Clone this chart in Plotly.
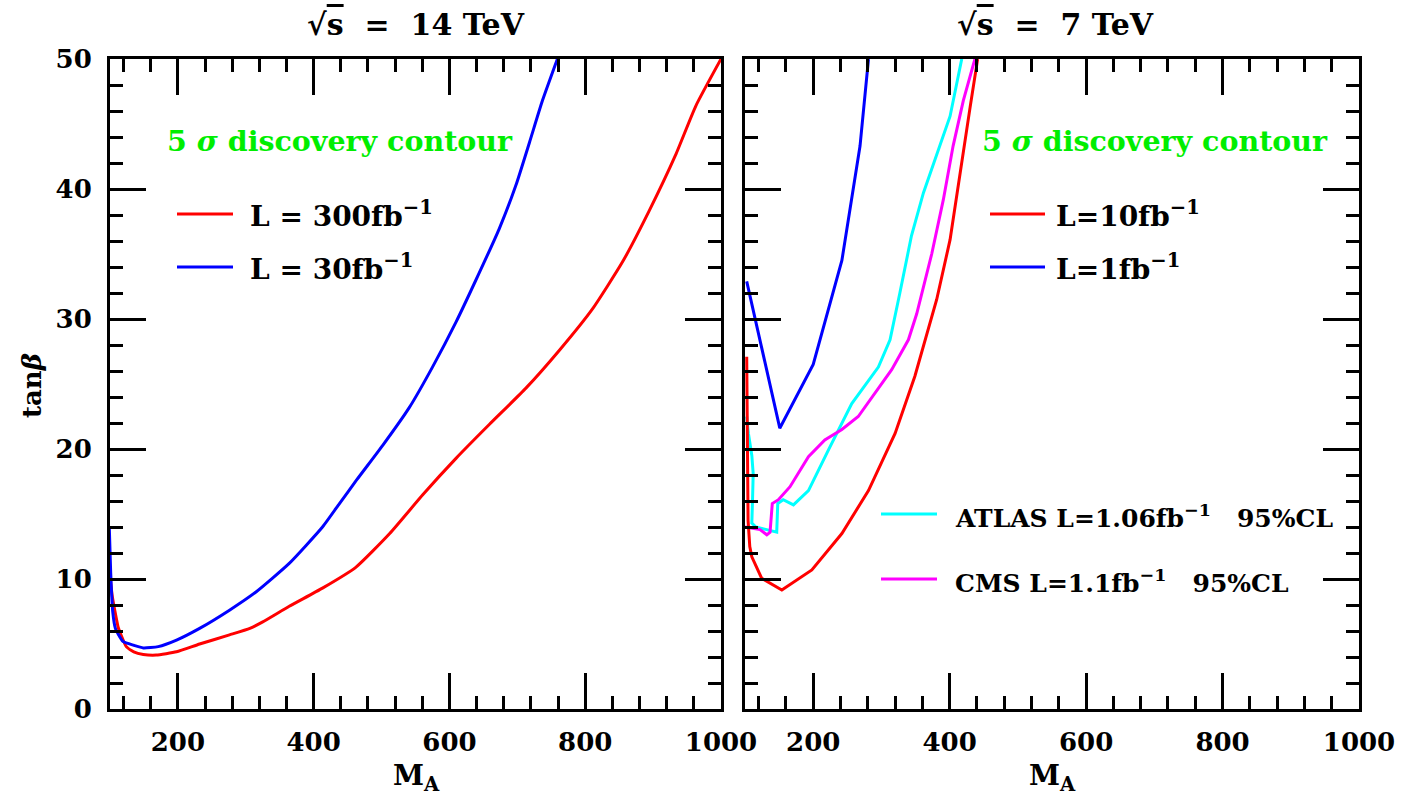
import plotly.graph_objects as go

# ---- sqrt(s) = 14 TeV : 5 sigma discovery contours ----
ma_14_300 = [99, 103, 107, 112, 117, 124, 135, 149, 168, 198, 232, 276, 306, 325,
             364, 413, 462, 512, 561, 610, 659, 713, 762, 811, 855, 894, 933, 963, 1000]
tb_14_300 = [10.8, 8.8, 7.6, 6.3, 5.6, 4.8, 4.4, 4.2, 4.15, 4.4, 5.0, 5.7, 6.2, 6.7,
             7.9, 9.3, 10.9, 13.5, 16.5, 19.3, 21.9, 24.7, 27.6, 30.8, 34.4, 38.3, 42.6, 46.4, 50.0]

ma_14_30 = [99, 101, 104, 108, 119, 135, 149, 171, 198, 232, 276, 315, 364, 413,
            438, 463, 502, 541, 575, 610, 639, 673, 698, 718, 737, 759]
tb_14_30 = [13.9, 10.5, 7.5, 6.2, 5.2, 4.9, 4.7, 4.8, 5.3, 6.2, 7.6, 9.0, 11.2, 14.0,
            15.8, 17.6, 20.3, 23.2, 26.3, 29.8, 33.0, 36.9, 40.3, 43.6, 46.8, 50.0]

# ---- sqrt(s) = 7 TeV ----
ma_7_10 = [102.5, 103.5, 104.5, 107, 110, 124.5, 154, 198, 242, 281, 320, 349, 381,
           400.6, 415, 430, 441]
tb_7_10 = [27.1, 20.0, 14.5, 12.5, 11.7, 10.05, 9.15, 10.7, 13.5, 16.8, 21.2, 25.6, 31.5,
           36.1, 41.2, 46.3, 50.0]

ma_7_1 = [102.5, 151, 200, 242, 268.6, 281]
tb_7_1 = [32.9, 21.6, 26.5, 34.5, 43.3, 50.0]

ma_atlas = [102.5, 105, 110, 112, 111, 110, 116, 132, 146.5, 148, 156, 171, 193, 222,
            256.5, 295.5, 312.6, 327, 344, 361.5, 381, 400.6, 417.7]
tb_atlas = [22.5, 21.2, 19.5, 18.1, 16.0, 14.3, 14.0, 13.8, 13.6, 15.8, 16.1, 15.7, 16.8, 19.9,
            23.5, 26.3, 28.4, 32.0, 36.4, 39.7, 42.7, 45.6, 50.0]

ma_cms = [100, 122, 132, 136.7, 140, 149, 166, 193, 217, 242, 266, 290.6, 315, 339.5,
          351.7, 373.7, 390.8, 405, 420, 437]
tb_cms = [14.0, 13.8, 13.4, 13.6, 15.8, 16.1, 17.1, 19.4, 20.7, 21.5, 22.5, 24.3, 26.1, 28.4,
          30.4, 35.0, 39.2, 43.3, 46.8, 50.0]

x_ticks = [200, 400, 600, 800, 1000]
y_ticks = [0, 10, 20, 30, 40, 50]

RED, BLUE, CYAN, MAGENTA, GREEN = "#ff0000", "#0000ff", "#00ffff", "#ff00ff", "#00ee00"
FONT = "DejaVu Serif"
LW = 3

fig = go.Figure()
for xs, ys, col, xa, ya, shape in [
    (ma_14_300, tb_14_300, RED, "x", "y", "spline"),
    (ma_14_30, tb_14_30, BLUE, "x", "y", "spline"),
    (ma_7_1, tb_7_1, BLUE, "x2", "y2", "linear"),
    (ma_atlas, tb_atlas, CYAN, "x2", "y2", "linear"),
    (ma_cms, tb_cms, MAGENTA, "x2", "y2", "linear"),
    (ma_7_10, tb_7_10, RED, "x2", "y2", "linear"),
]:
    fig.add_trace(go.Scatter(x=xs, y=ys, mode="lines", xaxis=xa, yaxis=ya,
                             line=dict(color=col, width=LW, shape=shape, smoothing=0.5),
                             showlegend=False, hoverinfo="skip"))

W, H = 1406, 804
L, R, T, B = 110, 47, 59, 95
PW, PH = W - L - R, H - T - B


def px(xp):
    return (xp - L) / PW


def py(yp):
    return (H - B - yp) / PH


tickfont = dict(family=FONT, size=26, color="black", weight="bold")
xcommon = dict(range=[100, 1000], tickvals=x_ticks, ticks="inside", ticklen=36, tickwidth=3,
               tickcolor="black", showline=True, linewidth=3, linecolor="black",
               mirror="allticks", showgrid=False, zeroline=False, tickfont=tickfont,
               ticklabelstandoff=8,
               minor=dict(dtick=40, tick0=0, ticks="inside", ticklen=13, tickwidth=3,
                          tickcolor="black", showgrid=False))
ycommon = dict(range=[0, 50], tickvals=y_ticks, ticks="inside", ticklen=36, tickwidth=3,
               tickcolor="black", showline=True, linewidth=3, linecolor="black",
               mirror="allticks", showgrid=False, zeroline=False, tickfont=tickfont,
               ticklabelstandoff=10,
               minor=dict(dtick=2, tick0=0, ticks="inside", ticklen=13, tickwidth=3,
                          tickcolor="black", showgrid=False))

fig.update_layout(
    width=W, height=H, margin=dict(l=L, r=R, t=T, b=B),
    paper_bgcolor="white", plot_bgcolor="white", showlegend=False,
    xaxis=dict(domain=[0, px(721)], anchor="y", **xcommon),
    yaxis=dict(domain=[0, 1], anchor="x", **ycommon),
    xaxis2=dict(domain=[px(745), 1], anchor="y2", **xcommon),
    yaxis2=dict(domain=[0, 1], anchor="x2", showticklabels=False,
                **{k: v for k, v in ycommon.items() if k != "tickfont"}),
)

ann = []


def text(x, y, s, size=28, color="black", xanchor="left", angle=0):
    ann.append(dict(x=x, y=y, xref="paper", yref="paper", text=s, showarrow=False,
                    xanchor=xanchor, yanchor="middle", textangle=angle,
                    font=dict(family=FONT, size=size, color=color, weight="bold")))


def key(x0, x1, yp, color):
    fig.add_shape(type="line", xref="paper", yref="paper", x0=px(x0), x1=px(x1),
                  y0=py(yp), y1=py(yp), line=dict(color=color, width=LW))


root_s = "√<span style='text-decoration:overline'>s</span>"
text(px(416), py(25), root_s + "  =  14 TeV", size=30, xanchor="center")
text(px(1055), py(25), root_s + "  =  7 TeV", size=30, xanchor="center")

text(px(165), py(141), "5 <i>σ</i> discovery contour", size=28.5, color=GREEN)
text(px(980), py(141), "5 <i>σ</i> discovery contour", size=28.5, color=GREEN)

key(177, 233, 214, RED)
text(px(248), py(214), "L = 300fb<sup>−1</sup>")
key(177, 233, 267, BLUE)
text(px(248), py(267), "L = 30fb<sup>−1</sup>")

key(990, 1045, 214, RED)
text(px(1054), py(214), "L=10fb<sup>−1</sup>")
key(990, 1045, 267, BLUE)
text(px(1054), py(267), "L=1fb<sup>−1</sup>")

key(881, 937, 514, CYAN)
text(px(953), py(516), "ATLAS L=1.06fb<sup>−1</sup>   95%CL", size=25)
key(881, 937, 579, MAGENTA)
text(px(953), py(581), "CMS L=1.1fb<sup>−1</sup>   95%CL", size=25)

text(px(32), py(386), "tan<i>β</i>", size=26, xanchor="center", angle=-90)
text(px(416), py(778), "M<sub>A</sub>", size=28, xanchor="center")
text(px(1052), py(778), "M<sub>A</sub>", size=28, xanchor="center")

fig.update_layout(annotations=ann)
fig.write_html("out.html")
